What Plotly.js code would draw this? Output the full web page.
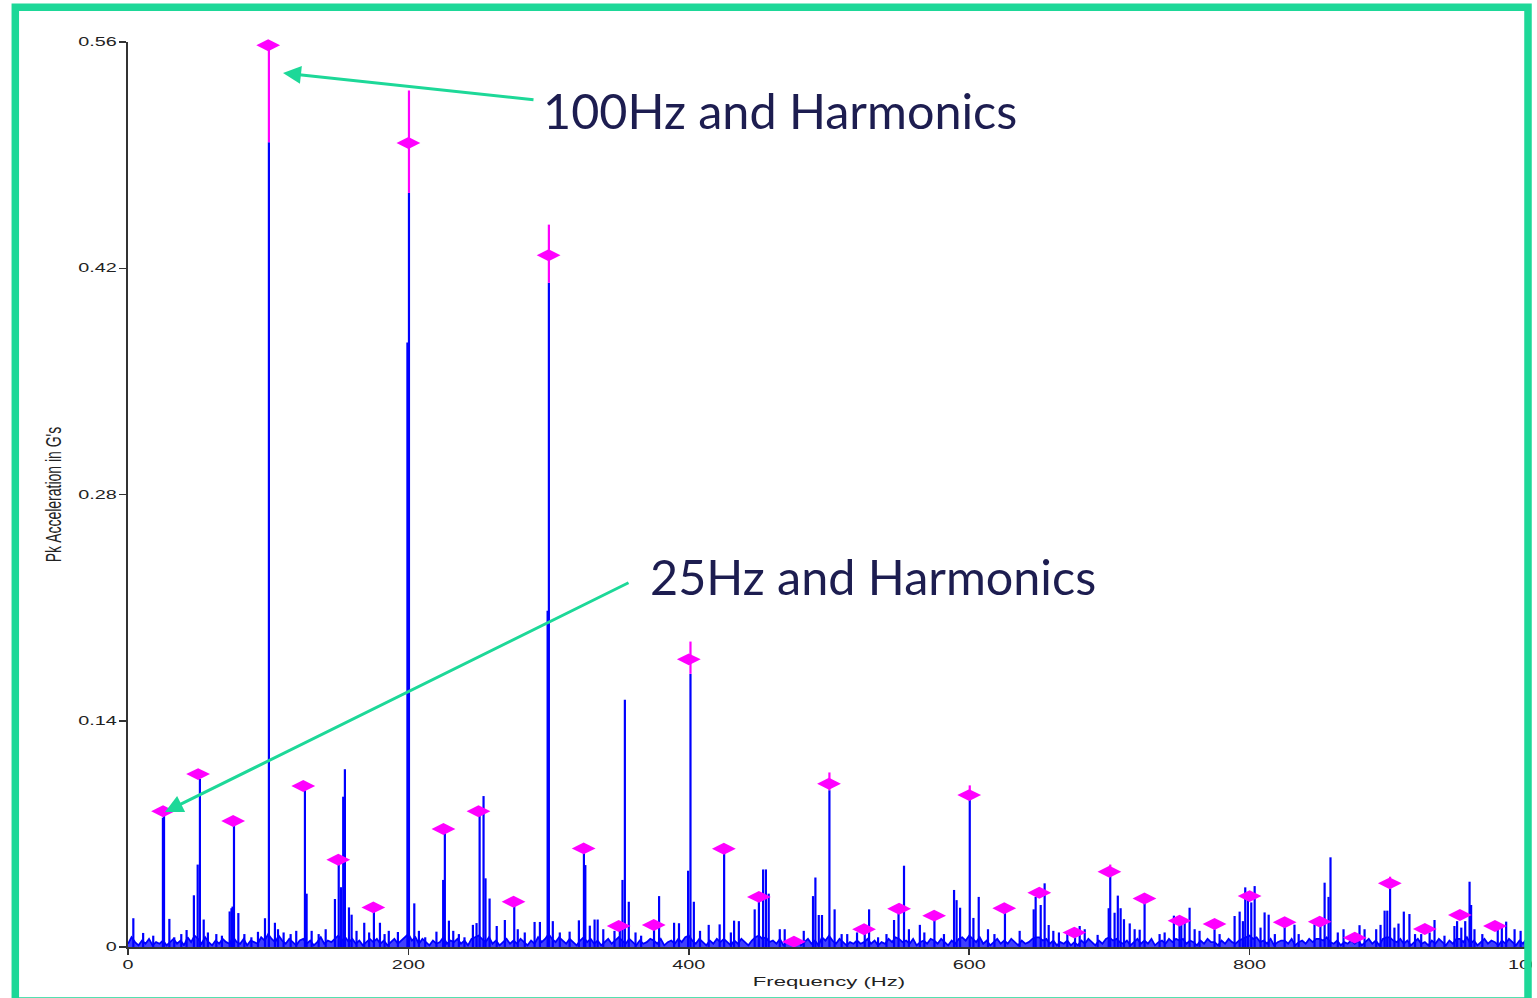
<!DOCTYPE html>
<html><head><meta charset="utf-8">
<script src="https://cdn.plot.ly/plotly-3.0.1.min.js"></script>
<style>html,body{margin:0;padding:0;background:#fff;overflow:hidden}</style>
</head><body><div id="chart" style="width:1537px;height:998px"></div>
<script>
// ---------------- DATA ----------------
// Spectrum noise floor, one value per 2.5 Hz bin from 0 to 1000 Hz, in milli-g
const floorBinHz = 2.5;
const floorMilliG = [
  2,6,3,1,4,2,5,1,3,2,  4,1,3,5,2,4,1,6,3,7,  5,2,6,3,1,4,2,5,3,2,  6,3,2,5,1,4,3,2,6,4,
  8,5,3,7,4,2,5,3,1,4,  5,2,4,1,3,6,2,4,3,5,  7,4,6,3,5,2,4,1,3,5,  3,5,2,4,1,3,5,2,4,6,
  8,4,6,2,5,3,1,4,2,3,  6,2,4,3,5,2,4,1,5,6,  7,5,3,6,2,4,1,3,5,2,  4,2,5,3,1,4,2,6,3,5,
  8,5,3,6,4,2,5,3,1,4,  6,3,5,2,4,1,3,5,2,4,  6,4,2,5,3,1,4,2,3,5,  4,2,5,1,3,4,2,5,3,6,
  7,4,2,5,3,1,4,2,5,3,  5,3,1,4,2,5,3,1,4,6,  7,5,6,3,4,2,5,1,3,2,  2,4,1,3,5,2,4,1,6,4,
  7,4,2,5,3,1,3,2,4,2,  3,5,2,4,1,3,2,5,3,6,  5,3,4,2,5,1,3,4,2,5,  4,2,5,3,1,4,2,5,6,4,
  7,5,3,6,2,4,1,3,5,2,  4,2,5,3,1,4,2,3,5,6,  6,4,5,2,4,1,3,2,4,1,  3,1,4,2,5,3,1,4,2,5,
  6,4,5,3,2,4,1,3,5,2,  4,2,5,1,3,4,2,5,3,5,  4,5,2,4,3,1,4,2,5,3,  3,1,4,2,5,3,2,4,5,6,
  7,5,6,3,4,2,5,1,3,4,  4,2,5,1,3,4,2,5,3,5,  5,4,6,3,2,4,1,3,2,4,  2,4,1,3,5,2,4,1,5,6,
  6,4,3,5,2,4,1,3,5,2,  3,1,4,2,5,3,1,4,2,5,  5,3,6,2,4,1,3,5,2,4,  3,1,4,2,5,3,1,4,2,5,
  3
];

// Spectral lines standing above the floor (Hz, g)
const spikeFreq = [
  3.8, 10.8, 18, 24.9, 25.7, 29.5, 33, 38, 41.8, 47,
  49.7, 51.3, 54, 57, 63, 67, 72.5, 73.8, 74.6, 75.6,
  78.7, 83, 88, 92.7, 97.7, 100.5, 104.8, 107, 111, 116,
  120, 126.2, 127.4, 131, 136, 141, 147.6, 150.3, 151.9, 153.5,
  154.7, 157.6, 159.5, 163, 168.5, 172, 175.4, 179.7, 183, 186,
  192.5, 199.3, 200.4, 204.2, 207.5, 212, 220, 224.8, 226, 228.9,
  232, 236, 240, 246, 248.6, 250.8, 253.6, 255, 257.9, 263,
  268.8, 275.5, 278, 283, 290, 293.8, 299.3, 300.2, 303, 308,
  315, 321.6, 325.2, 326.2, 329.4, 332.8, 335, 339, 347, 350.8,
  352.7, 354.4, 357.2, 362, 366, 375.2, 378.8, 389.5, 393, 399.5,
  401.2, 403.6, 408, 414.2, 422, 425.2, 430, 432.3, 435.7, 447,
  450, 453, 455, 457, 464.9, 468.4, 482, 488.6, 490.3, 492.7,
  495, 500.3, 504, 509, 513, 520, 525.5, 528.6, 535, 541,
  546.4, 549.6, 553.5, 557, 564.8, 568, 575.2, 582, 589.2, 591,
  593.5, 600.4, 603, 606.8, 613.4, 618, 625.5, 636, 646, 647.4,
  651, 653.8, 656.7, 660, 664, 670, 675.5, 678.8, 682.4, 691.6,
  699.5, 700.6, 703.7, 706, 708, 710.4, 714.5, 718, 721.6, 725.1,
  735.8, 739.4, 746, 750, 751.3, 753.7, 757.2, 760.8, 764.3, 775,
  778.6, 789.3, 792.9, 795.2, 796.9, 798.8, 801.2, 803.6, 807.8, 810.7,
  813.6, 818, 825, 832, 835, 846.3, 850.5, 853.5, 856.3, 857.7,
  862.9, 867, 878.4, 882, 890.3, 893.4, 896.3, 898.2, 900.2, 903.3,
  906.2, 910, 914, 918, 922.4, 928.4, 931.9, 939, 946.1, 948,
  951, 953.8, 956.9, 958, 960.4, 966, 977, 979.9, 983, 989,
  993.3
];
const spikeAmp = [
  0.0178, 0.0087, 0.007, 0.080, 0.083, 0.0174, 0.006, 0.008, 0.0105, 0.032,
  0.051, 0.104, 0.017, 0.009, 0.008, 0.007, 0.022, 0.024, 0.025, 0.0755,
  0.021, 0.008, 0.006, 0.0094, 0.0178, 0.498, 0.015, 0.011, 0.009, 0.008,
  0.010, 0.097, 0.033, 0.010, 0.008, 0.011, 0.0297, 0.052, 0.037, 0.093,
  0.110, 0.0245, 0.020, 0.010, 0.015, 0.009, 0.0217, 0.015, 0.008, 0.010,
  0.0093, 0.374, 0.4666, 0.027, 0.010, 0.006, 0.0095, 0.0415, 0.0714, 0.0163,
  0.010, 0.008, 0.006, 0.0137, 0.0148, 0.0816, 0.0934, 0.0425, 0.030, 0.013,
  0.0167, 0.0255, 0.011, 0.009, 0.0155, 0.0155, 0.208, 0.411, 0.016, 0.009,
  0.0095, 0.0165, 0.058, 0.0507, 0.0132, 0.017, 0.017, 0.011, 0.010, 0.012,
  0.0415, 0.153, 0.028, 0.009, 0.007, 0.0112, 0.0315, 0.015, 0.0147, 0.0472,
  0.169, 0.028, 0.010, 0.0137, 0.014, 0.058, 0.009, 0.0163, 0.016, 0.0233,
  0.028, 0.048, 0.048, 0.033, 0.011, 0.011, 0.010, 0.0315, 0.043, 0.0198,
  0.0198, 0.097, 0.0233, 0.008, 0.008, 0.009, 0.009, 0.0233, 0.006, 0.008,
  0.0167, 0.0215, 0.0503, 0.011, 0.0137, 0.009, 0.0167, 0.008, 0.0353, 0.029,
  0.0243, 0.091, 0.018, 0.031, 0.011, 0.008, 0.021, 0.010, 0.0233, 0.031,
  0.026, 0.0394, 0.0136, 0.010, 0.009, 0.008, 0.006, 0.013, 0.011, 0.0075,
  0.024, 0.044, 0.0212, 0.0318, 0.024, 0.0172, 0.0146, 0.011, 0.0107, 0.0275,
  0.008, 0.009, 0.0194, 0.014, 0.0182, 0.016, 0.0243, 0.011, 0.010, 0.011,
  0.008, 0.0192, 0.0219, 0.016, 0.0369, 0.030, 0.0276, 0.0377, 0.012, 0.0214,
  0.020, 0.008, 0.0136, 0.0138, 0.008, 0.014, 0.0138, 0.0398, 0.031, 0.0555,
  0.009, 0.011, 0.0135, 0.011, 0.011, 0.0137, 0.0225, 0.0225, 0.036, 0.012,
  0.0145, 0.0219, 0.0204, 0.008, 0.008, 0.009, 0.0167, 0.007, 0.013, 0.016,
  0.012, 0.016, 0.0404, 0.026, 0.011, 0.008, 0.0111, 0.0138, 0.0157, 0.011,
  0.010
];

// 25 Hz harmonic markers (Hz, g)
const harmFreq = [
  25, 50, 75, 100, 125, 150, 175, 200, 225, 250,
  275, 300, 325, 350, 375, 400, 425, 450, 475, 500,
  525, 550, 575, 600, 625, 650, 675, 700, 725, 750,
  775, 800, 825, 850, 875, 900, 925, 950, 975
];
const harmAmp = [
  0.084, 0.107, 0.078, 0.558, 0.0996, 0.054, 0.0245, 0.4975, 0.073, 0.084,
  0.028, 0.428, 0.061, 0.013, 0.0136, 0.178, 0.0608, 0.031, 0.0033, 0.101,
  0.011, 0.0237, 0.0194, 0.094, 0.024, 0.0336, 0.0089, 0.0466, 0.030, 0.0163,
  0.0142, 0.0315, 0.0153, 0.0157, 0.0058, 0.0394, 0.0111, 0.0198, 0.013
];

// Peak-hold (magenta) extensions above the blue lines at the 100 Hz harmonics
const holdFreq = [100.5, 200.4, 300.2, 401.2, 500.3, 600.4, 700.6, 900.2];
const holdLow  = [0.498, 0.4666, 0.411, 0.169, 0.097, 0.091, 0.044, 0.036];
const holdHigh = [0.562, 0.530, 0.447, 0.189, 0.108, 0.100, 0.051, 0.0435];

// Axes
const xTickVals = [0, 200, 400, 600, 800, 1000];
const yTickVals = [0, 0.14, 0.28, 0.42, 0.56];
const yTickText = ['0', '0.14', '0.28', '0.42', '0.56'];
const xTitle = 'Frequency (Hz)';
const yTitle = "Pk Acceleration in G's";
const callout100 = '100Hz and Harmonics';
const callout25 = '25Hz and Harmonics';

// ---------------- BUILD ----------------
const W = 1537, H = 998, ML = 128, MR = 7, MT = 42, MB = 51;
const plotW = W - ML - MR, plotH = H - MT - MB;
const pX = px => (px - ML) / plotW;
const pY = py => (H - MB - py) / plotH;

const BLUE = '#0000ff', MAG = '#ff00ff', GREEN = '#1dd898', AX = '#333333';
const FONT = 'Arial, "Liberation Sans", sans-serif';

const floorX = floorMilliG.map((_, i) => i * floorBinHz);
const floorY = floorMilliG.map(v => v / 1000);

const stemX = [], stemY = [];
spikeFreq.forEach((f, i) => { stemX.push(f, f, null); stemY.push(0, spikeAmp[i], null); });

const holdX = [], holdY = [];
holdFreq.forEach((f, i) => { holdX.push(f, f, null); holdY.push(holdLow[i], holdHigh[i], null); });

const traces = [
  {x: floorX, y: floorY, type: 'scatter', mode: 'lines', line: {color: BLUE, width: 1.8},
   fill: 'tozeroy', fillcolor: 'rgba(0,0,255,0.75)', hoverinfo: 'skip'},
  {x: stemX, y: stemY, type: 'scatter', mode: 'lines', line: {color: BLUE, width: 2.2}, connectgaps: false, hoverinfo: 'skip'},
  {x: holdX, y: holdY, type: 'scatter', mode: 'lines', line: {color: MAG, width: 2.2}, connectgaps: false, hoverinfo: 'skip', cliponaxis: false},
  {x: harmFreq, y: harmAmp, type: 'scatter', mode: 'markers', cliponaxis: false,
   marker: {symbol: 'diamond-wide', size: 17, color: MAG, line: {width: 0}}, hoverinfo: 'skip'}
];

const layout = {
  width: W, height: H,
  margin: {l: ML, r: MR, t: MT, b: MB, pad: 0},
  paper_bgcolor: '#ffffff', plot_bgcolor: '#ffffff',
  showlegend: false,
  xaxis: {
    range: [0, 1000], tickvals: xTickVals, ticks: 'outside', ticklen: 6, tickwidth: 1.5, tickcolor: AX,
    showline: true, linecolor: AX, linewidth: 1.8, showgrid: false, zeroline: false,
    ticklabeloverflow: 'allow',
    tickfont: {family: FONT, size: 12, color: '#222'},
    title: {text: xTitle, font: {family: FONT, size: 13, color: '#222'}, standoff: 6}
  },
  yaxis: {
    range: [0, 0.56], tickvals: yTickVals, ticktext: yTickText, ticks: 'outside', ticklen: 7, tickwidth: 1.5, tickcolor: AX,
    showline: true, linecolor: AX, linewidth: 1.8, showgrid: false, zeroline: false,
    tickfont: {family: FONT, size: 12, color: '#222'},
    title: {text: yTitle, font: {family: FONT, size: 14, color: '#222'}, standoff: 28}
  },
  annotations: [
    {xref: 'paper', yref: 'paper', x: pX(541), y: pY(110), xanchor: 'left', yanchor: 'middle', showarrow: false,
     text: callout100, font: {family: 'Lato, "Open Sans", sans-serif', size: 48.5, color: '#1d1d50'}},
    {xref: 'paper', yref: 'paper', x: pX(648), y: pY(576), xanchor: 'left', yanchor: 'middle', showarrow: false,
     text: callout25, font: {family: 'Lato, "Open Sans", sans-serif', size: 48.5, color: '#1d1d50'}},
    {xref: 'paper', yref: 'paper', x: pX(283), y: pY(73), axref: 'pixel', ayref: 'pixel', ax: 535 - 283, ay: 100 - 73,
     text: '', showarrow: true, arrowhead: 2, arrowsize: 1.2, arrowwidth: 3, arrowcolor: GREEN, standoff: 0},
    {xref: 'paper', yref: 'paper', x: pX(165), y: pY(812), axref: 'pixel', ayref: 'pixel', ax: 630 - 165, ay: 582 - 812,
     text: '', showarrow: true, arrowhead: 2, arrowsize: 1.2, arrowwidth: 3, arrowcolor: GREEN, standoff: 0}
  ],
  shapes: [
    {type: 'rect', xref: 'paper', yref: 'paper', layer: 'above',
     x0: pX(1532), x1: pX(1545), y0: pY(1005), y1: pY(-5),
     line: {width: 0}, fillcolor: '#ffffff'},
    {type: 'rect', xref: 'paper', yref: 'paper', layer: 'above',
     x0: pX(15.3), x1: pX(1528), y0: pY(1001), y1: pY(7.2),
     line: {color: GREEN, width: 7.5}, fillcolor: 'rgba(0,0,0,0)'}
  ]
};

Plotly.newPlot('chart', traces, layout, {staticPlot: true, displayModeBar: false}).then(() => {
  const stretch = (sel, f) => document.querySelectorAll(sel).forEach(t => {
    const w = t.getComputedTextLength();
    if (w > 0) { t.setAttribute('textLength', (w * f).toFixed(1)); t.setAttribute('lengthAdjust', 'spacingAndGlyphs'); }
  });
  stretch('.xtick text', 1.65);
  stretch('.ytick text', 1.65);
  stretch('text.xtitle', 1.7);
  const yt = document.querySelector('text.ytitle');
  if (yt) {
    const x = parseFloat(yt.getAttribute('x'));
    const tr = yt.getAttribute('transform') || '';
    yt.setAttribute('transform', 'translate(' + x + ',0) scale(1.6,1) translate(' + (-x) + ',0) ' + tr);
  }
});
</script>
</body></html>
